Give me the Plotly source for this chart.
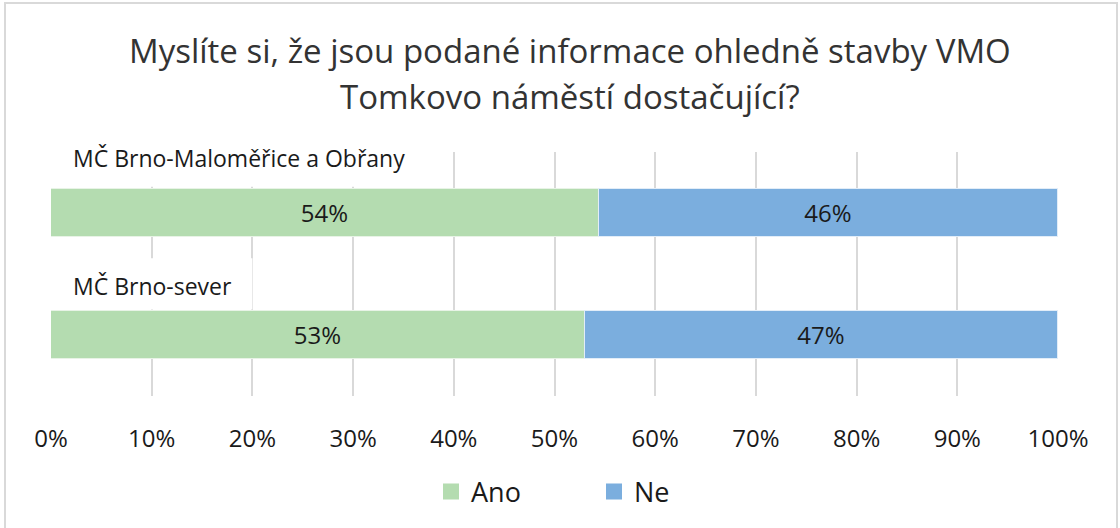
import plotly.graph_objects as go

categories = ["MČ Brno-Maloměřice a Obřany", "MČ Brno-sever"]
ano = [54.4, 53.0]
ne = [45.6, 47.0]
series_names = ["Ano", "Ne"]
tick_vals = [0, 10, 20, 30, 40, 50, 60, 70, 80, 90, 100]
tick_labels = ["0%", "10%", "20%", "30%", "40%", "50%", "60%", "70%", "80%", "90%", "100%"]
title_lines = ["Myslíte si, že jsou podané informace ohledně stavby VMO", "Tomkovo náměstí dostačující?"]

FONT = "Open Sans"
GREEN = "#B4DCB0"
BLUE = "#7BAEDE"
TXT = "#1a1a1a"
COLORS = [GREEN, BLUE]
EDGES = ["#e8f3e6", "#e2edf8"]

W, H = 1120, 528
PL, PR, PT, PB = 51, 1058, 152, 396
PW, PH = PR - PL, PB - PT

def py(pix):  # pixel y -> paper y
    return (PB - pix) / PH

def px(pix):
    return (pix - PL) / PW

ypos = list(range(len(categories)))

fig = go.Figure()
for vals, name, col, edge in zip([ano, ne], series_names, COLORS, EDGES):
    fig.add_trace(go.Bar(
        y=ypos, x=vals, name=name, orientation="h",
        marker=dict(color=col, line=dict(color=edge, width=1)),
        width=0.39, texttemplate="%{x:.0f}%", textposition="inside",
        insidetextanchor="middle", textfont=dict(family=FONT, size=24, color=TXT),
        hoverinfo="skip", showlegend=False,
    ))
# legend entries with square swatches
for name, col in zip(series_names, COLORS):
    fig.add_trace(go.Scatter(
        x=[None], y=[None], mode="markers", name=name,
        marker=dict(symbol="square", size=17, color=col), hoverinfo="skip",
    ))

# white label boxes behind category labels
boxes = [(0.2, 37.5, -0.62, -0.215), (0.2, 20.0, 0.37, 0.79)]
for x0, x1, y0, y1 in boxes:
    fig.add_shape(type="rect", xref="x", yref="y", x0=x0, x1=x1, y0=y0, y1=y1,
                  fillcolor="white", line=dict(width=0), layer="above")

label_y = [-0.45, 0.6]
for cat, ly in zip(categories, label_y):
    fig.add_annotation(x=0, y=ly, xref="x", yref="y", text=cat, showarrow=False,
                       xanchor="left", yanchor="middle", xshift=20,
                       font=dict(family=FONT, size=23, color=TXT))

# title (two centred lines)
for line, ly in zip(title_lines, [50, 97]):
    fig.add_annotation(x=px(570), y=py(ly), xref="paper", yref="paper", text=line,
                       showarrow=False, xanchor="center", yanchor="middle",
                       font=dict(family=FONT, size=33, color="#333333"))

# chart border
fig.add_shape(type="rect", xref="paper", yref="paper",
              x0=px(5), x1=px(1117), y0=py(540), y1=py(3),
              line=dict(color="#d9d9d9", width=2), fillcolor="rgba(0,0,0,0)", layer="below")

fig.update_layout(
    width=W, height=H,
    margin=dict(l=PL, r=W - PR, t=PT, b=H - PB),
    paper_bgcolor="white", plot_bgcolor="white",
    barmode="stack",
    bargap=0,
    xaxis=dict(range=[0, 100], tickmode="array", tickvals=tick_vals, ticktext=tick_labels,
               showgrid=True, gridcolor="#d9d9d9", gridwidth=2,
               zeroline=False, showline=False, ticks="",
               tickfont=dict(family=FONT, size=24, color=TXT),
               ticklabelstandoff=26, fixedrange=True),
    yaxis=dict(range=[1.5, -0.5], showticklabels=False, showgrid=False,
               zeroline=False, showline=False, ticks="", fixedrange=True),
    legend=dict(orientation="h", x=px(594), xanchor="center", xref="paper",
                y=py(492), yanchor="middle",
                font=dict(family=FONT, size=27, color=TXT),
                traceorder="normal", entrywidth=118, itemwidth=30, itemsizing="trace"),
    showlegend=True,
)

fig.write_html("out.html", config={"displayModeBar": False},
               post_script="document.body.style.margin='0';")
